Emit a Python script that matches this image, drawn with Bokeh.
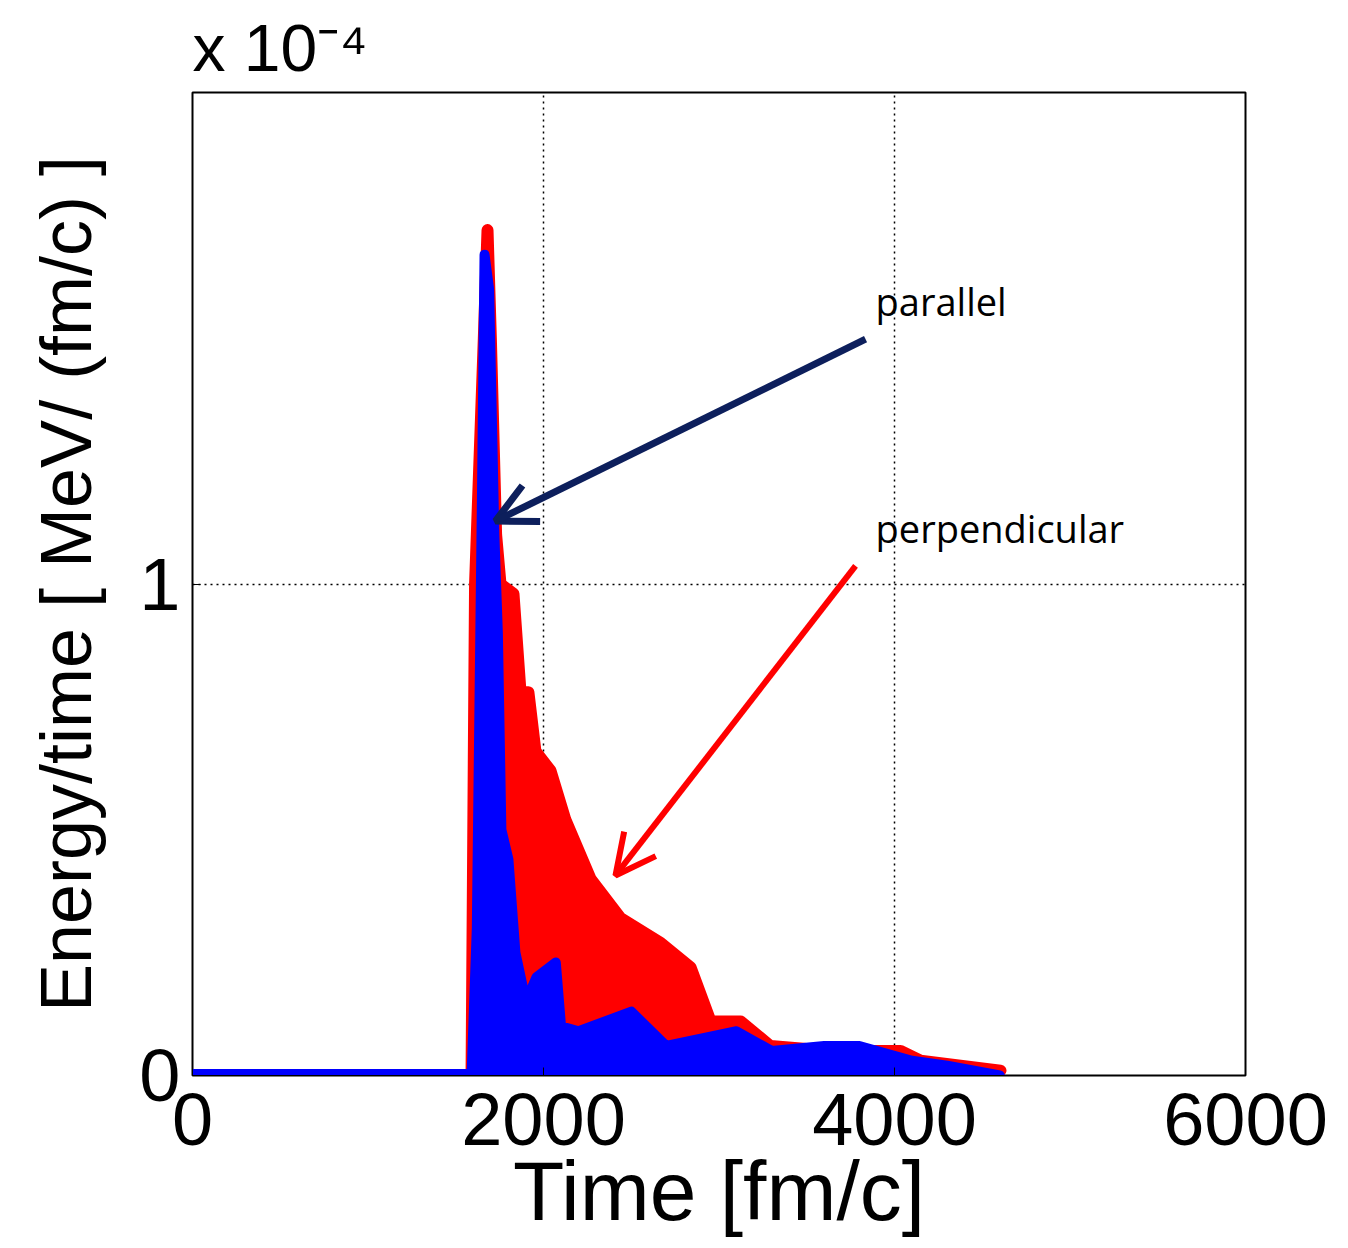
from bokeh.plotting import figure
from bokeh.models import Range1d, FixedTicker, Label, Arrow, OpenHead, Title
from bokeh.embed import file_html
from bokeh.resources import INLINE

# Energy/time in units of 1e-4 MeV/(fm/c)
base_t = [0, 400, 800, 1200, 1590]
base_y = [0, 0, 0, 0, 0]

red_t = [1590, 1610, 1660, 1681, 1700, 1730, 1755, 1829, 1869, 1914, 1954, 2040, 2125, 2268,
         2439, 2667, 2838, 2952, 3123, 3293, 3635, 4034, 4148, 4604]
red_y = [0, 1.0, 1.5, 1.72, 1.5, 1.1, 1.0, 0.98, 0.78, 0.78, 0.66, 0.62, 0.52, 0.40,
         0.32, 0.27, 0.22, 0.11, 0.11, 0.06, 0.05, 0.05, 0.03, 0.01]

blue_t = [1590, 1620, 1650, 1664, 1690, 1720, 1740, 1760, 1800, 1840, 1900, 1960, 2070, 2100,
          2200, 2500, 2700, 3100, 3300, 3600, 3800, 4100, 4300, 4600]
blue_y = [0, 0.3, 1.2, 1.67, 1.6, 1.1, 0.9, 0.5, 0.44, 0.25, 0.15, 0.2, 0.23, 0.1,
          0.09, 0.13, 0.06, 0.09, 0.05, 0.06, 0.06, 0.03, 0.02, 0.0]

x_ticks = [0, 2000, 4000, 6000]
y_ticks = [0, 1]

p = figure(width=1335, height=1240, output_backend="svg", toolbar_location=None,
           x_range=Range1d(0, 6000), y_range=Range1d(0, 2),
           min_border_left=192, min_border_right=90, min_border_top=36, min_border_bottom=155)
p.background_fill_color = "white"
p.outline_line_color = "black"
p.outline_line_width = 2

p.varea(x=red_t, y1=0, y2=red_y, fill_color="red")
p.line(red_t, red_y, line_color="red", line_width=12, line_join="round", line_cap="round")
p.varea(x=blue_t, y1=0, y2=blue_y, fill_color="blue")
p.line(blue_t, blue_y, line_color="blue", line_width=10, line_join="round", line_cap="round")
p.line(base_t, base_y, line_color="blue", line_width=13, line_cap="round")

for ax, ticks in ((p.xaxis, x_ticks), (p.yaxis, y_ticks)):
    ax.ticker = FixedTicker(ticks=ticks)
    ax.major_label_text_font = "Liberation Sans"
    ax.major_label_text_font_size = "74px"
    ax.major_label_text_color = "black"
    ax.axis_label_text_font = "Liberation Sans"
    ax.axis_label_text_font_style = "normal"
    ax.axis_label_text_color = "black"
    ax.axis_line_color = "black"
    ax.major_tick_in = 8
    ax.major_tick_out = 0
    ax.minor_tick_line_color = None
p.xaxis.axis_label = "Time [fm/c]"
p.xaxis.axis_label_text_font_size = "84px"
p.xaxis.axis_label_standoff = -4
p.xaxis.major_label_standoff = 18
p.yaxis.axis_label = "Energy/time [ MeV/ (fm/c) ]"
p.yaxis.axis_label_text_font_size = "72px"
p.yaxis.axis_label_standoff = 30
p.yaxis.major_label_standoff = 12

for g in (p.xgrid, p.ygrid):
    g.grid_line_color = "black"
    g.grid_line_dash = "2 4"
    g.grid_line_width = 1.5
p.xgrid.ticker = FixedTicker(ticks=x_ticks)
p.ygrid.ticker = FixedTicker(ticks=y_ticks)

p.add_layout(Title(text="x 10⁻⁴", text_font="Liberation Sans", text_font_size="66px",
                   text_font_style="normal", text_color="black", align="left", offset=0,
                   standoff=16), "above")

p.add_layout(Arrow(x_start=3835, y_start=1.498, x_end=1726, y_end=1.128, line_color="#0d1f5c",
                   line_width=7, end=OpenHead(size=40, line_color="#0d1f5c", line_width=7)))
p.add_layout(Arrow(x_start=3778, y_start=1.037, x_end=2410, y_end=0.407, line_color="red",
                   line_width=6, end=OpenHead(size=40, line_color="red", line_width=6)))
p.add_layout(Label(x=3892, y=1.575, text="parallel", text_font="Open Sans", text_font_size="38px",
                   text_color="black", text_baseline="middle"))
p.add_layout(Label(x=3892, y=1.114, text="perpendicular", text_font="Open Sans", text_font_size="38px",
                   text_color="black", text_baseline="middle"))

open("out.html", "w").write(file_html(p, INLINE))
